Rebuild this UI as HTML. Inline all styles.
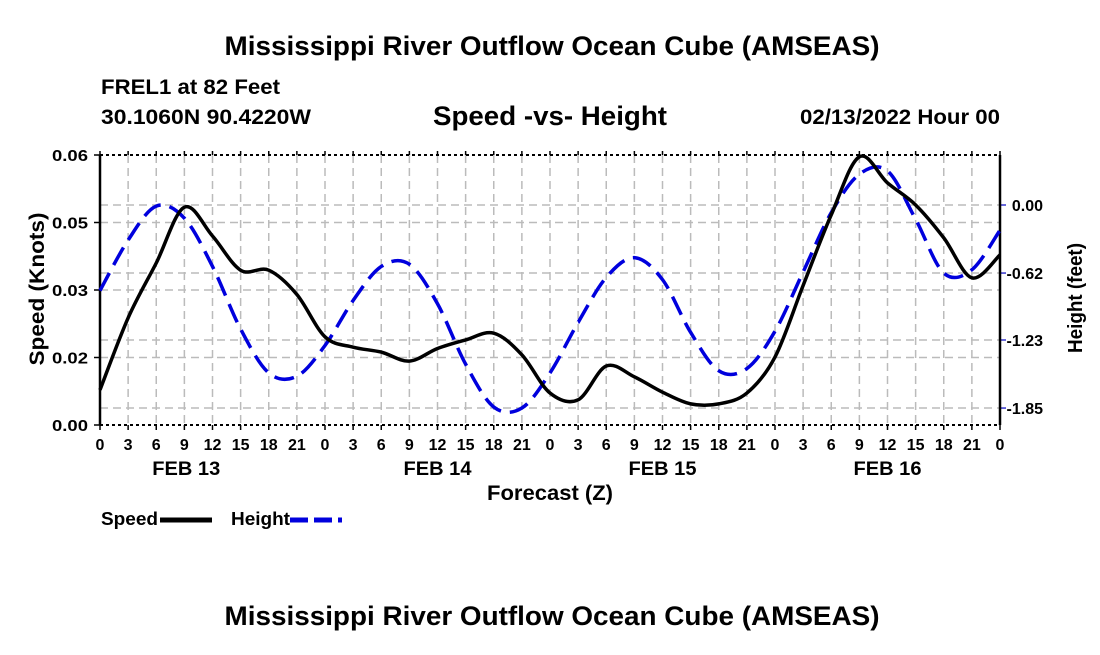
<!DOCTYPE html>
<html><head><meta charset="utf-8"><style>
body{margin:0;background:#fff;}
svg text{font-family:"Liberation Sans",Arial,sans-serif;font-weight:bold;fill:#000;}
</style></head><body>
<svg id="chart" width="1100" height="650" viewBox="0 0 1100 650" xmlns="http://www.w3.org/2000/svg">
<text x="552" y="55" font-size="27" text-anchor="middle" textLength="655" lengthAdjust="spacingAndGlyphs">Mississippi River Outflow Ocean Cube (AMSEAS)</text>
<text x="101" y="94" font-size="21" textLength="179" lengthAdjust="spacingAndGlyphs">FREL1 at 82 Feet</text>
<text x="101" y="124" font-size="21" textLength="210" lengthAdjust="spacingAndGlyphs">30.1060N  90.4220W</text>
<text x="550" y="125" font-size="27" text-anchor="middle" textLength="234" lengthAdjust="spacingAndGlyphs">Speed -vs- Height</text>
<text x="1000" y="124" font-size="21" text-anchor="end" textLength="200" lengthAdjust="spacingAndGlyphs">02/13/2022 Hour 00</text>
<g id="grid"></g>
<g id="axes"></g>
<g id="series"></g>
<text transform="translate(44,289) rotate(-90)" font-size="21" text-anchor="middle" textLength="153" lengthAdjust="spacingAndGlyphs">Speed (Knots)</text>
<text transform="translate(1082,298) rotate(-90)" font-size="20" text-anchor="middle" textLength="110" lengthAdjust="spacingAndGlyphs">Height (feet)</text>
<text x="550" y="500" font-size="21" text-anchor="middle" textLength="126" lengthAdjust="spacingAndGlyphs">Forecast (Z)</text>
<g><text x="101" y="525" font-size="18" textLength="57" lengthAdjust="spacingAndGlyphs">Speed</text><line x1="160" y1="520" x2="212" y2="520" stroke="#000" stroke-width="5"/></g>
<g><text x="231" y="525" font-size="18" textLength="59" lengthAdjust="spacingAndGlyphs">Height</text><line x1="290" y1="520" x2="342" y2="520" stroke="#0000dd" stroke-width="5" stroke-dasharray="18,6"/></g>
<text x="552" y="625" font-size="27" text-anchor="middle" textLength="655" lengthAdjust="spacingAndGlyphs">Mississippi River Outflow Ocean Cube (AMSEAS)</text>
</svg>
<script>
const hours=[0,3,6,9,12,15,18,21,24,27,30,33,36,39,42,45,48,51,54,57,60,63,66,69,72,75,78,81,84,87,90,93,96];
const speed=[0.0078,0.0238,0.036,0.0484,0.042,0.0344,0.0344,0.029,0.0196,0.0173,0.0162,0.0142,0.017,0.0189,0.0204,0.0156,0.0071,0.0056,0.0131,0.0107,0.0073,0.0047,0.0047,0.0071,0.0151,0.031,0.0467,0.0596,0.0538,0.0489,0.0416,0.0327,0.0378];
const height=[-0.78,-0.32,-0.01,-0.12,-0.56,-1.13,-1.53,-1.56,-1.28,-0.87,-0.56,-0.54,-0.90,-1.45,-1.84,-1.85,-1.53,-1.07,-0.66,-0.48,-0.68,-1.16,-1.51,-1.49,-1.15,-0.61,-0.07,0.28,0.31,-0.13,-0.62,-0.59,-0.23];
const leftTicks=[0,0.015,0.03,0.045,0.06];
const leftLabels=["0.00","0.02","0.03","0.05","0.06"];
const rightTicks=[0,-0.62,-1.23,-1.85];
const rightLabels=["0.00","-0.62","-1.23","-1.85"];
const dayLabels=["FEB 13","FEB 14","FEB 15","FEB 16"];
const dayHours=[9.2,36,60,84];

const X0=100,X1=1000,Y0=425,Y1=155;
const xs=h=>X0+(X1-X0)*h/96;
const ys=v=>Y0-(Y0-Y1)*v/0.06;
const yh=v=>205-v*(340-205)/1.23;
const NS="http://www.w3.org/2000/svg";
function mk(tag,attrs,parent,text){const e=document.createElementNS(NS,tag);for(const k in attrs)e.setAttribute(k,attrs[k]);if(text!==undefined)e.textContent=text;parent.appendChild(e);return e;}
const grid=document.getElementById('grid'),axes=document.getElementById('axes'),series=document.getElementById('series');
const gs={stroke:"#bbb","stroke-width":1.5,"stroke-dasharray":"8,5"};
for(let h=3;h<96;h+=3){const l=mk('line',Object.assign({x1:xs(h),x2:xs(h),y1:Y1,y2:Y0},gs),grid);

}
leftTicks.forEach((v,i)=>{if(i>0&&i<leftTicks.length-1){const l=mk('line',Object.assign({x1:X0,x2:X1,y1:ys(v),y2:ys(v)},gs),grid);

}
mk('line',{x1:X0-6,x2:X0,y1:ys(v),y2:ys(v),stroke:"#000","stroke-width":1.5},axes);
const t=mk('text',{x:X0-12,y:ys(v)+6,"font-size":16,"text-anchor":"end",textLength:36,lengthAdjust:"spacingAndGlyphs"},axes,leftLabels[i]);

});
rightTicks.forEach((v,i)=>{const l=mk('line',Object.assign({x1:X0,x2:X1,y1:yh(v),y2:yh(v)},gs),grid);


mk('line',{x1:X1,x2:X1+6,y1:yh(v),y2:yh(v),stroke:"#3333cc","stroke-width":1.5},axes);
const t=mk('text',{x:1043,y:yh(v)+6,"font-size":16,"text-anchor":"end"},axes,rightLabels[i]);

});
mk('line',{x1:X0,x2:X1,y1:Y1,y2:Y1,stroke:"#000","stroke-width":2,"stroke-dasharray":"3,3"},axes);
mk('line',{x1:X0,x2:X1,y1:Y0,y2:Y0,stroke:"#000","stroke-width":2,"stroke-dasharray":"3,3"},axes);
mk('line',{x1:X0,x2:X0,y1:Y1,y2:Y0,stroke:"#000","stroke-width":2.5},axes);
mk('line',{x1:X1,x2:X1,y1:Y1,y2:Y0,stroke:"#000","stroke-width":2.5},axes);
for(let h=0;h<=96;h+=3){mk('line',{x1:xs(h),x2:xs(h),y1:Y0,y2:Y0+5,stroke:"#000","stroke-width":1.5},axes);
mk('line',{x1:xs(h),x2:xs(h),y1:Y1,y2:Y1-4,stroke:"#000","stroke-width":1.5},axes);
const t=mk('text',{x:xs(h),y:Y0+25,"font-size":16,"text-anchor":"middle"},axes,String(h%24));

}
dayLabels.forEach((d,i)=>{const t=mk('text',{x:xs(dayHours[i]),y:Y0+50,"font-size":19,"text-anchor":"middle",textLength:68,lengthAdjust:"spacingAndGlyphs"},axes,d);

});
function path(vals,yf){const p=hours.map((h,i)=>[xs(h),yf(vals[i])]);let d="M"+p[0][0]+","+p[0][1];
for(let i=0;i<p.length-1;i++){const a=p[Math.max(0,i-1)],b=p[i],c=p[i+1],e=p[Math.min(p.length-1,i+2)];
d+=" C"+(b[0]+(c[0]-a[0])/6)+","+(b[1]+(c[1]-a[1])/6)+" "+(c[0]-(e[0]-b[0])/6)+","+(c[1]-(e[1]-b[1])/6)+" "+c[0]+","+c[1];}return d;}
const hp=mk('path',{d:path(height,yh),fill:"none",stroke:"#0000dd","stroke-width":3.5,"stroke-dasharray":"20,9"},series);


const sp=mk('path',{d:path(speed,ys),fill:"none",stroke:"#000","stroke-width":3.5},series);


</script>
</body></html>
